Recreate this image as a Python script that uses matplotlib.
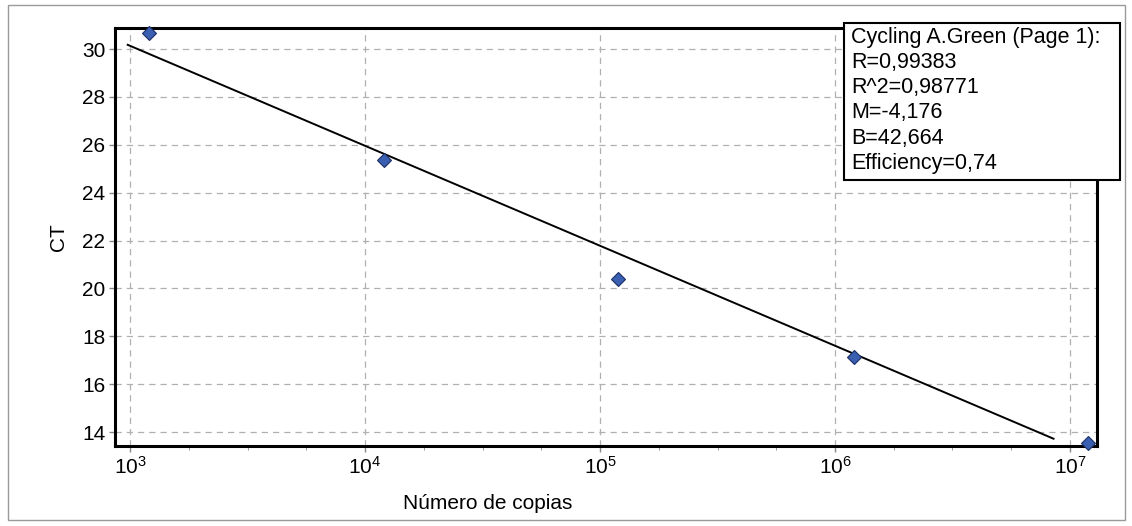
import numpy as np
import matplotlib
matplotlib.use('Agg')
import matplotlib.pyplot as plt
from matplotlib.patches import Rectangle
from matplotlib.ticker import LogLocator, FixedLocator, NullFormatter

plt.rcParams['font.family'] = ['Liberation Sans', 'DejaVu Sans']
plt.rcParams['mathtext.fontset'] = 'custom'
plt.rcParams['mathtext.rm'] = 'Liberation Sans'

# standard curve points (copies vs CT)
copias = [1.2e3, 1.2e4, 1.19e5, 1.2e6, 1.19e7]
ct = [30.67, 25.36, 20.40, 17.15, 13.56]

# fit reported by the software
M = -4.176
B = 42.664
stats = ['Cycling A.Green (Page 1):', 'R=0,99383', 'R^2=0,98771',
         'M=-4,176', 'B=42,664', 'Efficiency=0,74']
fit_range = (10**2.99, 10**6.93)

W, H = 1132, 526
fig = plt.figure(figsize=(W / 100, H / 100), dpi=100)
ax = fig.add_axes([115 / W, 1 - 446 / H, (1097 - 115) / W, (446 - 28) / H])

xf = np.logspace(np.log10(fit_range[0]), np.log10(fit_range[1]), 50)
ax.plot(xf, M * np.log10(xf) + B, color='black', lw=1.4, zorder=3)
ax.plot(copias, ct, 'D', color='#3a5fb0', mec='#1c2f66', mew=0.8, ms=7.5,
        zorder=4, clip_on=False)

ax.set_xscale('log')
ax.set_xlim(10**2.936, 10**7.115)
ax.set_ylim(13.42, 30.88)
ax.set_yticks(range(14, 31, 2))
ax.xaxis.set_major_locator(LogLocator(base=10, numticks=10))
minors = [10**(d + f) for d in range(2, 8) for f in (0.25, 0.5, 0.75)]
ax.xaxis.set_minor_locator(FixedLocator(minors))
ax.xaxis.set_minor_formatter(NullFormatter())

ax.grid(True, which='major', ls=(0, (5, 4)), color='#b0b0b0', lw=0.9)
ax.tick_params(axis='both', which='major', labelsize=15, length=4, width=1,
               color='#888888', pad=3)
ax.tick_params(axis='x', which='minor', length=3, color='#888888')
for s in ax.spines.values():
    s.set_linewidth(2.2)

ax.set_ylabel('CT', fontsize=15)
ax.yaxis.set_label_coords(-0.048, 0.5)
ax.set_xlabel('Número de copias', fontsize=15)
ax.xaxis.set_label_coords((488 - 115) / (1097 - 115), -0.115)

# outer frame of the panel
fig.patches.append(Rectangle((8 / W, 1 - 520 / H), (1125 - 8) / W, (520 - 5) / H,
                             transform=fig.transFigure, fill=False,
                             edgecolor='#9a9a9a', lw=1))
# statistics box
fig.patches.append(Rectangle((844 / W, 1 - 180 / H), (1120 - 844) / W, (180 - 23) / H,
                             transform=fig.transFigure, facecolor='white',
                             edgecolor='black', lw=1.5, zorder=5))
fig.text(851 / W, 1 - 27 / H, '\n'.join(stats), fontsize=15.5, va='top',
         ha='left', linespacing=1.26, zorder=6)

fig.savefig('out.png', dpi=100)
